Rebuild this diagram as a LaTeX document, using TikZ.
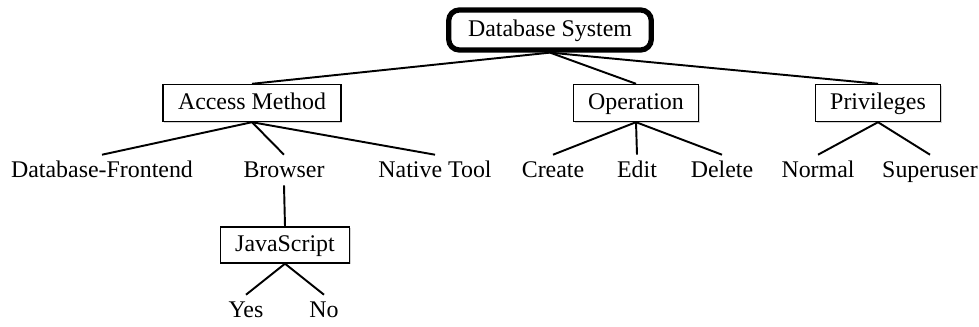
\documentclass[tikz,border=0pt]{standalone}
\usepackage{fontspec}
\setmainfont{Liberation Serif}
\usetikzlibrary{shadows}

\begin{document}
\begin{tikzpicture}[x=0.02cm, y=-0.02cm,
		every node/.style={font=\fontsize{13.6}{16}\selectfont},
		root_style/.style={rectangle,draw=black,line width=3pt,rounded corners=6pt,
			inner xsep=11pt,minimum height=0.8cm,text height=10pt,text depth=3pt},
		box_style/.style={rectangle,draw=black,line width=0.8pt,fill=white,
			inner xsep=8.5pt,minimum height=0.74cm,text height=10pt,text depth=3pt,
			drop shadow={shadow xshift=0.8pt,shadow yshift=-0.8pt,opacity=0.35}},
		leaf_style/.style={inner sep=2pt,text height=11pt,text depth=2pt},
		edge_style/.style={draw=black,line width=1.1pt}]
	\useasboundingbox (0,0) rectangle (979,327);

	\node[root_style] (root) at (550,30)  {Database System};
		\node[box_style] (am) at (252,103)  {Access Method};
		\node[box_style] (op) at (636,103)  {Operation};
		\node[box_style] (pv) at (878,103)  {Privileges};
		\node[leaf_style] (dbf) at (102,170)  {Database-Frontend};
		\node[leaf_style] (br) at (284,170)  {Browser};
		\node[leaf_style] (nt) at (435,170)  {Native Tool};
		\node[leaf_style] (cr) at (553,170)  {Create};
		\node[leaf_style] (ed) at (637,170)  {Edit};
		\node[leaf_style] (de) at (722,170)  {Delete};
		\node[leaf_style] (no) at (818,170)  {Normal};
		\node[leaf_style] (su) at (930,170)  {Superuser};
		\node[box_style, minimum height=0.72cm] (js) at (285,245)  {JavaScript};
		\node[leaf_style] (yes) at (246,310)  {Yes};
		\node[leaf_style] (nop) at (324,310)  {No};

	    \draw[edge_style]  (root.south) edge (am.north);
	    \draw[edge_style]  (root.south) edge (op.north);
	    \draw[edge_style]  (root.south) edge (pv.north);
	    \draw[edge_style]  (am.south) edge (dbf.north);
	    \draw[edge_style]  (am.south) edge (br.north);
	    \draw[edge_style]  (am.south) edge (nt.north);
	    \draw[edge_style]  (op.south) edge (cr.north);
	    \draw[edge_style]  (op.south) edge (ed.north);
	    \draw[edge_style]  (op.south) edge (de.north);
	    \draw[edge_style]  (pv.south) edge (no.north);
	    \draw[edge_style]  (pv.south) edge (su.north);
	    \draw[edge_style]  (br.south) edge (js.north);
	    \draw[edge_style]  (js.south) edge (yes.north);
	    \draw[edge_style]  (js.south) edge (nop.north);
\end{tikzpicture}
\end{document}
